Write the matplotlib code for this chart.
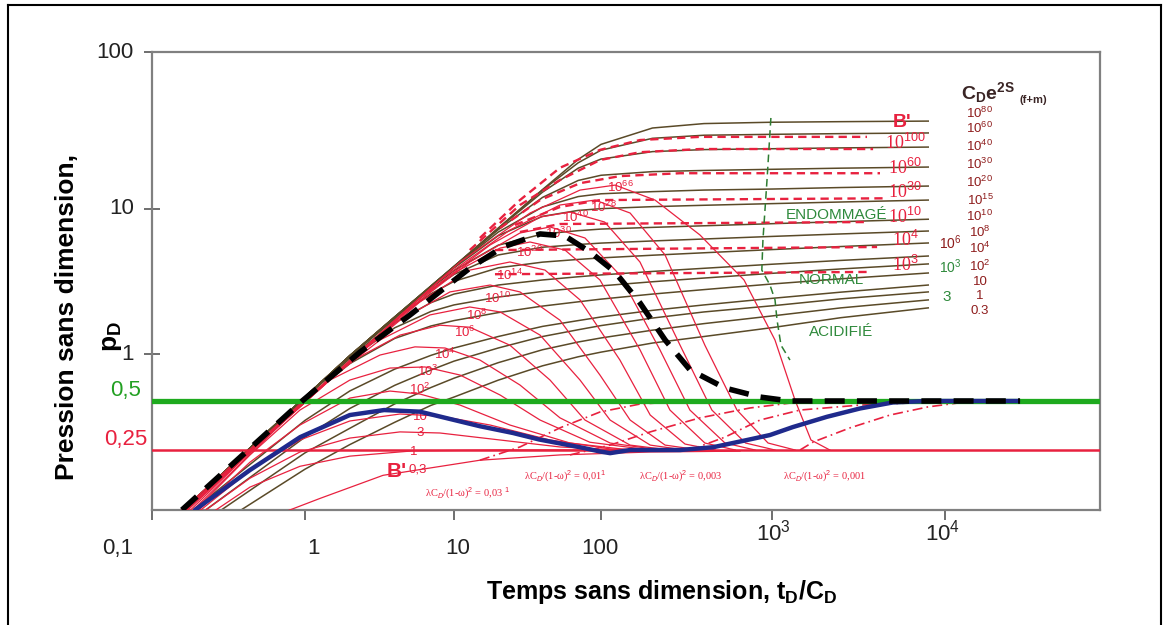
import numpy as np
import matplotlib
matplotlib.use("Agg")
import matplotlib.pyplot as plt
from matplotlib.lines import Line2D
from matplotlib.ticker import FixedLocator, NullLocator, NullFormatter

plt.rcParams["font.family"] = ["Liberation Sans", "DejaVu Sans"]
plt.rcParams["mathtext.fontset"] = "custom"
plt.rcParams["mathtext.rm"] = "Liberation Sans"
plt.rcParams["mathtext.it"] = "Liberation Sans:italic"
plt.rcParams["mathtext.bf"] = "Liberation Sans:bold"
NARROW = ["Liberation Sans Narrow", "Liberation Sans", "DejaVu Sans"]
SERIF = ["Liberation Serif", "DejaVu Serif"]

# ---- pD type curves, one row per CDe2S value, on a shared tD/CD grid
t_pd = [0.15, 1, 2, 4, 7, 10, 20, 40, 70, 100, 200, 400, 1000, 2500, 8000]
pd_rows = [
    [0.10, 0.53, 0.976, 1.80, 2.94, 4.02, 7.38, 13.3, 20.7, 25.8, 32.8, 35.0, 35.7, 36.0, 36.3],
    [0.10, 0.53, 0.976, 1.80, 2.94, 4.02, 7.36, 13.2, 19.7, 23.7, 28.2, 29.5, 29.9, 30.2, 30.5],
    [0.10, 0.53, 0.976, 1.80, 2.94, 4.01, 7.32, 12.8, 18.2, 20.8, 23.2, 23.9, 24.2, 24.5, 24.8],
    [0.10, 0.53, 0.976, 1.80, 2.93, 4.00, 7.20, 11.85, 15.2, 16.4, 17.3, 17.6, 17.9, 18.2, 18.5],
    [0.10, 0.53, 0.975, 1.79, 2.91, 3.97, 6.93, 10.3, 12.0, 12.5, 12.9, 13.2, 13.4, 13.7, 14.0],
    [0.10, 0.53, 0.974, 1.78, 2.91, 3.92, 6.55, 8.9, 9.78, 10.05, 10.35, 10.56, 10.82, 11.08, 11.4],
    [0.10, 0.53, 0.973, 1.79, 2.85, 3.76, 5.63, 6.72, 7.09, 7.27, 7.47, 7.66, 7.92, 8.18, 8.5],
    [0.10, 0.53, 0.970, 1.77, 2.77, 3.54, 4.82, 5.45, 5.69, 5.82, 6.02, 6.21, 6.47, 6.73, 7.05],
    [0.10, 0.528, 0.969, 1.735, 2.60, 3.17, 3.93, 4.30, 4.49, 4.60, 4.80, 4.99, 5.25, 5.51, 5.83],
    [0.10, 0.527, 0.955, 1.64, 2.26, 2.59, 2.99, 3.24, 3.41, 3.51, 3.71, 3.90, 4.16, 4.42, 4.74],
    [0.10, 0.524, 0.933, 1.516, 1.965, 2.18, 2.47, 2.70, 2.85, 2.95, 3.15, 3.34, 3.60, 3.86, 4.18],
    [0.10, 0.511, 0.868, 1.28, 1.56, 1.70, 1.93, 2.14, 2.29, 2.39, 2.59, 2.78, 3.04, 3.30, 3.62],
    [0.09, 0.38, 0.58, 0.80, 0.98, 1.10, 1.32, 1.55, 1.70, 1.80, 2.00, 2.18, 2.42, 2.67, 2.99],
    [0.08, 0.30, 0.45, 0.63, 0.79, 0.90, 1.10, 1.32, 1.47, 1.57, 1.77, 1.95, 2.15, 2.40, 2.68],
    [0.07, 0.24, 0.34, 0.48, 0.61, 0.70, 0.88, 1.07, 1.21, 1.29, 1.46, 1.62, 1.83, 2.08, 2.36],
    [0.06, 0.19, 0.27, 0.37, 0.47, 0.53, 0.68, 0.84, 0.96, 1.03, 1.19, 1.32, 1.52, 1.78, 2.08],
]

# ---- derivative curves (t, p'D) for each CDe2S
deriv_curves = [
    ([0.573, 1.26, 3.34, 15.0, 52.6, 194, 650],
     [0.094, 0.125, 0.174, 0.216, 0.233, 0.243, 0.246]),
    ([0.258, 0.437, 0.927, 2.0, 5.3, 20.6, 98],
     [0.105, 0.147, 0.198, 0.229, 0.247, 0.25, 0.25]),
    ([0.222, 0.437, 0.927, 2.0, 4.34, 8.05, 20.6, 52.6, 129],
     [0.105, 0.167, 0.243, 0.296, 0.323, 0.318, 0.288, 0.261, 0.25]),
    ([0.206, 0.437, 0.927, 2.0, 4.34, 8.05, 17.6, 45, 113, 194],
     [0.105, 0.187, 0.288, 0.377, 0.416, 0.404, 0.356, 0.288, 0.254, 0.25]),
    ([0.2, 0.437, 0.927, 2.0, 3.72, 5.91, 11.0, 24.0, 61.5, 148],
     [0.105, 0.21, 0.356, 0.522, 0.579, 0.554, 0.472, 0.356, 0.276, 0.25]),
    ([0.191, 0.437, 0.927, 2.0, 3.72, 6.38, 11.0, 20.6, 38.5, 84, 194],
     [0.105, 0.233, 0.44, 0.681, 0.813, 0.826, 0.733, 0.546, 0.382, 0.279, 0.25]),
    ([0.184, 0.687, 1.47, 3.19, 5.47, 8.7, 15.0, 28.1, 52.6, 113, 221],
     [0.105, 0.356, 0.681, 0.985, 1.12, 1.10, 0.915, 0.633, 0.394, 0.276, 0.25]),
    ([0.177, 0.927, 2.0, 4.34, 8.05, 12.8, 24.0, 45, 77.8, 148, 253],
     [0.105, 0.48, 0.889, 1.35, 1.58, 1.53, 1.15, 0.681, 0.382, 0.268, 0.25]),
    ([0.17, 1.26, 3.19, 6.9, 12.8, 20.6, 38.5, 72, 113, 194, 310],
     [0.105, 0.614, 1.25, 1.86, 2.11, 1.95, 1.35, 0.681, 0.382, 0.268, 0.25]),
    ([0.167, 1.72, 4.34, 9.4, 17.6, 28.1, 52.6, 98.4, 148, 237, 379],
     [0.105, 0.79, 1.71, 2.68, 2.99, 2.68, 1.71, 0.733, 0.382, 0.268, 0.25]),
    ([0.164, 2.34, 5.91, 12.8, 24.0, 41.6, 72, 129, 194, 310, 465],
     [0.105, 1.02, 2.29, 3.79, 4.31, 3.79, 2.36, 0.915, 0.41, 0.272, 0.25]),
    ([0.164, 3.19, 9.4, 20.6, 32.9, 56.9, 98.4, 169, 253, 405, 610],
     [0.105, 1.37, 3.5, 5.38, 5.92, 5.21, 3.24, 1.07, 0.44, 0.276, 0.25]),
    ([0.164, 4.34, 12.8, 28.1, 45, 77.8, 129, 221, 331, 531, 796],
     [0.105, 1.83, 4.31, 6.83, 7.52, 6.31, 3.5, 1.07, 0.44, 0.276, 0.25]),
    ([0.164, 5.91, 17.6, 38.5, 61.5, 105, 169, 290, 445, 700, 1040],
     [0.105, 2.43, 5.65, 8.8, 9.53, 8.13, 4.31, 1.15, 0.44, 0.276, 0.25]),
    ([0.16, 8.05, 24.0, 52.6, 91, 148, 237, 405, 624, 948, 1360],
     [0.105, 3.24, 7.16, 10.6, 11.4, 9.38, 4.82, 1.15, 0.44, 0.276, 0.25]),
    ([0.155, 11.0, 32.9, 72, 121, 207, 379, 686, 1040, 1360, 1680, 2160],
     [0.105, 4.31, 9.38, 13.2, 14.2, 11.4, 6.62, 3.24, 1.25, 0.505, 0.288, 0.25]),
]

# ---- fissured (f+m) pD curves, dashed
dashed_curves = [
    ([15.0, 28.1, 52.6, 98.4, 169, 379, 3540], [6.31, 11.4, 18.3, 23.8, 27.5, 28.8, 28.8]),
    ([12.8, 28.1, 52.6, 98.4, 169, 379, 3840], [5.21, 10.6, 15.3, 20.5, 23.0, 24.1, 24.1]),
    ([20.6, 38.5, 72, 129, 290, 4210], [7.40, 11.4, 14.6, 16.2, 16.9, 16.9]),
    ([26.0, 52.6, 98.4, 4620], [7.76, 10.3, 11.4, 11.7]),
    ([28.1, 52.6, 3540], [6.94, 7.88, 8.13]),
    ([19.0, 4050], [5.21, 5.47]),
    ([19.0, 3540], [3.55, 3.68]),
]

# ---- transition curves for lambda*CD/(1-w)^2
lambda_curves = [
    ([15.0, 28.1, 52.6, 98.4, 169, 331], [0.216, 0.261, 0.342, 0.428, 0.479, 0.5]),
    ([61.5, 113, 194, 379, 743, 1452, 2162], [0.233, 0.268, 0.323, 0.394, 0.453, 0.494, 0.5]),
    ([331, 531, 851, 1452, 3228, 9350, 14500], [0.25, 0.30, 0.382, 0.44, 0.472, 0.495, 0.5]),
    ([1452, 1730, 2825, 4808, 7980, 12500, 22650], [0.25, 0.28, 0.342, 0.41, 0.46, 0.488, 0.5]),
]
lambda_text = ["0,03 $^1$", "0,01$^1$", "0,003", "0,001"]

# ---- highlighted curves
blue_t = [0.191, 0.436, 0.93, 2.0, 3.4, 5.9, 15, 25.2, 38, 72, 98, 113, 148, 290, 452,
          715, 973, 1322, 2080, 3230, 5000, 7900, 29580]
blue_p = [0.106, 0.1875, 0.30, 0.41, 0.44, 0.43, 0.35, 0.318, 0.29, 0.26, 0.245, 0.239, 0.25,
          0.25, 0.26, 0.288, 0.309, 0.346, 0.40, 0.45, 0.49, 0.5, 0.5]
black_t = [0.157, 0.97, 2.34, 5.07, 12.85, 21.5, 38.5, 56.9, 84.3, 120.7, 169, 237, 332, 531,
           851, 1270, 30500]
black_p = [0.106, 0.505, 1.03, 1.86, 3.92, 5.47, 6.73, 6.51, 5.05, 3.68, 2.25, 1.25, 0.79, 0.605,
           0.53, 0.5, 0.5]
green_t = [985, 935, 885, 872, 973, 1041, 1069, 1127, 1270]
green_p = [38.0, 15.3, 6.11, 3.79, 2.99, 2.36, 1.72, 1.15, 0.915]

# ---- labels
right_text = ["10$^{80}$", "10$^{60}$", "10$^{40}$", "10$^{30}$", "10$^{20}$", "10$^{15}$",
              "10$^{10}$", "10$^{8}$", "10$^{4}$", "10$^{2}$", "10", "1", "0.3"]
right_p = [40.8, 32.4, 25.2, 19.1, 14.7, 11.4, 8.94, 6.94, 5.38, 4.05, 3.14, 2.51, 1.98]
plateau_text = ["10$^{100}$", "10$^{60}$", "10$^{30}$", "10$^{10}$", "10$^{4}$", "10$^{3}$"]
plateau_p = [26.3, 18.3, 12.8, 8.8, 6.11, 4.11]
hump_text = ["10$^{66}$", "10$^{28}$", "10$^{40}$", "10$^{30}$", "10$^{20}$", "10$^{14}$",
             "10$^{10}$", "10$^{8}$", "10$^{6}$", "10$^{4}$", "10$^{3}$", "10$^{2}$", "10", "3", "1"]
hump_t = [129, 103, 66.5, 51, 32.4, 24, 19.6, 14.3, 11.9, 8.7, 6.7, 5.91, 5.91, 5.91, 5.39]
hump_p = [13.8, 10.3, 8.8, 6.83, 5.05, 3.5, 2.43, 1.86, 1.42, 1.0, 0.778, 0.597, 0.40, 0.318, 0.243]

x_ticks = [0.1, 1, 10, 100, 1e3, 1e4]
x_tick_text = ["0,1", "1", "10", "100", "10$^3$", "10$^4$"]
y_ticks = [1, 10, 100]

RED = "#e8213f"
BROWN = "#5a4a28"
DARKRED = "#8e1c1c"
GREEN_TXT = "#2f8a3c"

# uneven decades on both axes: piecewise log scales
XK = [-3, -1, 0, 1, 2, 3, 4, 6]
XP = [-154, 152, 305, 454, 601, 772, 945, 1255]
YK = [-3, -0.975, -0.602, -0.301, 0, 1, 2, 4]
YP = [-325, 0, 60, 109, 156, 301, 458, 772]


def x_fwd(v):
    return np.interp(np.log10(np.clip(np.asarray(v, float), 1e-30, None)), XK, XP)


def x_inv(u):
    return 10.0 ** np.interp(np.asarray(u, float), XP, XK)


def y_fwd(v):
    return np.interp(np.log10(np.clip(np.asarray(v, float), 1e-30, None)), YK, YP)


def y_inv(u):
    return 10.0 ** np.interp(np.asarray(u, float), YP, YK)


fig = plt.figure(figsize=(11.67, 6.25), dpi=100)
ax = fig.add_axes([152 / 1167, 1 - 510 / 625, 948 / 1167, 458 / 625])
ax.set_xscale("function", functions=(x_fwd, x_inv))
ax.set_yscale("function", functions=(y_fwd, y_inv))
ax.set_xlim(0.1, 1e5)
ax.set_ylim(10 ** -0.975, 100)

for row in pd_rows:
    ax.plot(t_pd, row, color=BROWN, lw=1.1, zorder=2)

for t, p in deriv_curves:
    ax.plot(t, p, color=RED, lw=0.9, zorder=3)

for t, p in dashed_curves:
    ax.plot(t, p, color=RED, lw=1.7, ls=(0, (3.5, 2.2)), zorder=3)

for t, p in lambda_curves:
    ax.plot(t, p, color=RED, lw=1.2, ls=(0, (6, 2.5, 1, 2.5)), zorder=3)

ax.axhline(0.25, color=RED, lw=1.8, zorder=4)
ax.axhline(0.5, color="#1eaa1e", lw=3.8, zorder=5)
ax.plot(green_t, green_p, color="#2e7d32", lw=1.1, ls=(0, (5, 3)), zorder=4)
ax.plot(blue_t, blue_p, color="#1f2a8c", lw=3.2, zorder=6, solid_capstyle="round")
ax.plot(black_t, black_p, color="black", lw=4.0, ls=(0, (3.6, 2.2)), zorder=7)

# axes styling
for s in ax.spines.values():
    s.set_color("#808080")
    s.set_linewidth(1.6)
ax.xaxis.set_major_locator(FixedLocator(x_ticks))
ax.yaxis.set_major_locator(FixedLocator(y_ticks))
ax.xaxis.set_minor_locator(NullLocator())
ax.yaxis.set_minor_locator(NullLocator())
ax.xaxis.set_major_formatter(NullFormatter())
ax.yaxis.set_major_formatter(NullFormatter())
ax.tick_params(axis="x", direction="out", length=7, width=1.2, color="#555555")
ax.tick_params(axis="y", direction="inout", length=12, width=1.2, color="#555555")

xt = ax.get_xaxis_transform()
yt = ax.get_yaxis_transform()
x_lab_off = [-25, 6, 3, -1, 1, -2]
for v, s, dx in zip(x_ticks, x_tick_text, x_lab_off):
    up = 0.035 if "$" in s else 0.0
    ax.annotate(s, (v, -0.085 + up), xycoords=xt, xytext=(dx, 0), textcoords="offset points",
                ha="center", va="center", fontsize=16, family=NARROW, color="#222222")
for v in y_ticks:
    ax.text(-0.019, v, f"{v:g}", transform=yt, ha="right", va="center", fontsize=16,
            family=NARROW, color="#222222")
ax.text(-0.012, 0.5, "0,5", transform=yt, ha="right", va="bottom", fontsize=16,
        family=NARROW, color="#22a022")
ax.text(-0.005, 0.25, "0,25", transform=yt, ha="right", va="bottom", fontsize=16,
        family=NARROW, color=RED)

# right-hand column
for s, p in zip(right_text, right_p):
    ax.text(16800, p, s, ha="center", va="center", fontsize=9.5, family=NARROW, color=DARKRED)
ax.text(10770, 5.83, "10$^{6}$", ha="center", va="center", fontsize=10, family=NARROW,
        color=DARKRED)
ax.text(10770, 3.98, "10$^{3}$", ha="center", va="center", fontsize=10, family=NARROW,
        color=GREEN_TXT)
ax.text(10300, 2.47, "3", ha="center", va="center", fontsize=11, family=NARROW, color=GREEN_TXT)
ax.text(19000, 55, r"$\mathbf{C_De^{2S}}$", ha="center", va="center", fontsize=14,
        color="#3a2525")
ax.text(37000, 49.5, "(f+m)", ha="center", va="center", fontsize=8, weight="bold",
        color="#3a2525")

ax.text(5636, 35.8, "B'", ha="center", va="center", fontsize=14, weight="bold", color=RED)
for s, p in zip(plateau_text, plateau_p):
    ax.text(5875, p, s, ha="center", va="center", fontsize=13, color=RED, family=SERIF)

for s, t, p in zip(hump_text, hump_t, hump_p):
    ax.text(t, p, s, ha="center", va="center", fontsize=9.5, color=RED)
ax.text(4.15, 0.183, "B'", ha="center", va="center", fontsize=15, weight="bold", color=RED)
ax.text(5.7, 0.19, "0,3", ha="center", va="center", fontsize=9.5, color=RED)

lam_pos = [(12.3, 0.135), (56.9, 0.172), (294, 0.172), (2023, 0.172)]
for s, (t, p) in zip(lambda_text, lam_pos):
    ax.text(t, p, "λC$_D$/(1-ω)$^2$ = " + s, ha="center", va="center",
            fontsize=7.5, color=RED, family=SERIF)

ax.text(2344, 9.1, "ENDOMMAGÉ", ha="center", va="center", fontsize=11, family=NARROW,
        color=GREEN_TXT)
ax.text(2193, 3.24, "NORMAL", ha="center", va="center", fontsize=11, family=NARROW,
        color=GREEN_TXT)
ax.text(2508, 1.42, "ACIDIFIÉ", ha="center", va="center", fontsize=11, family=NARROW,
        color=GREEN_TXT)

# axis titles
fig.text(67 / 1167, 1 - 317 / 625, "Pression sans dimension,", rotation=90, ha="center",
         va="center", fontsize=19, weight="bold")
fig.text(112 / 1167, 1 - 337 / 625, r"$\mathbf{p_D}$", rotation=90, ha="center", va="center",
         fontsize=19)
fig.text(662 / 1167, 1 - 592 / 625, r"Temps sans dimension, $\mathbf{t_D/C_D}$", ha="center",
         va="center", fontsize=18, weight="bold", family=NARROW)

# page border
for xs, ys in [([8, 8], [5, 630]), ([8, 1161], [5, 5]), ([1161, 1161], [5, 630])]:
    fig.add_artist(Line2D([x / 1167 for x in xs], [1 - y / 625 for y in ys], color="black",
                          lw=1.5, transform=fig.transFigure))

fig.savefig("out.png", dpi=100)
